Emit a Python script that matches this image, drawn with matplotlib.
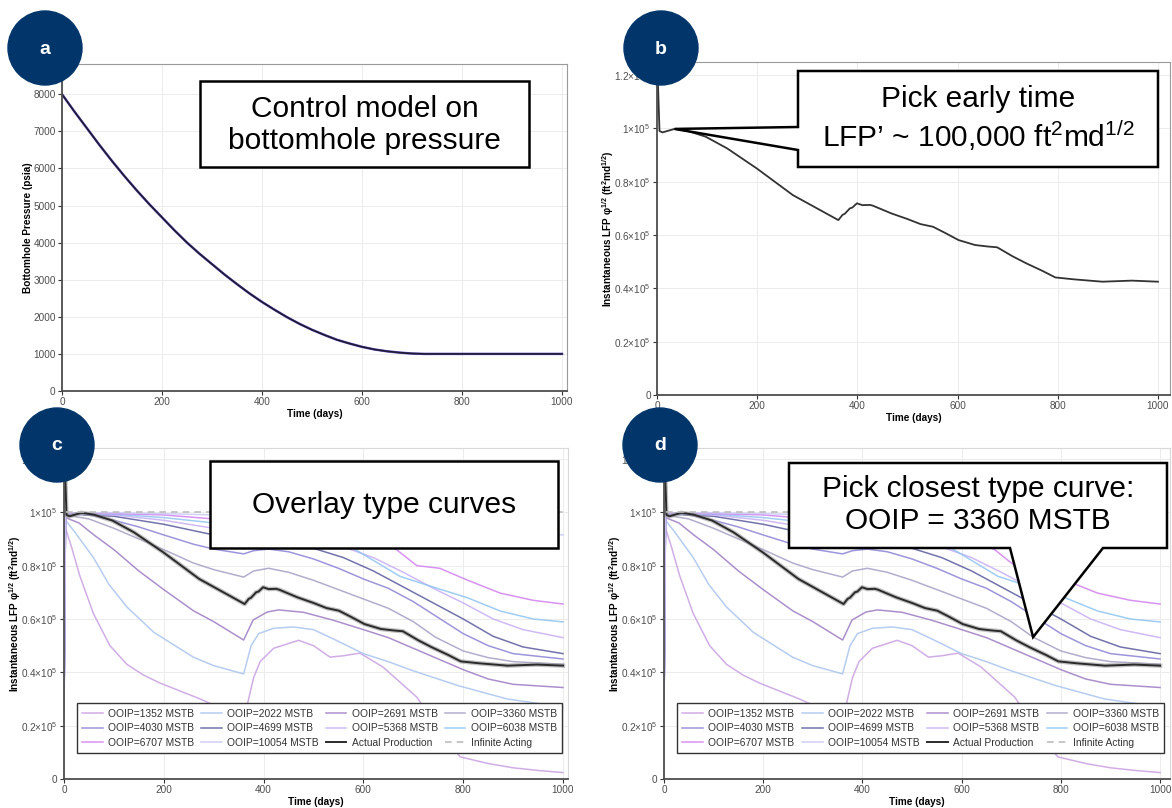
import numpy as np
import matplotlib
matplotlib.use("Agg")
import matplotlib.pyplot as plt
from matplotlib.patches import Circle, Polygon, Rectangle
from matplotlib.ticker import FuncFormatter, MultipleLocator

plt.rcParams['font.family'] = ['Liberation Sans', 'DejaVu Sans']
plt.rcParams['mathtext.fontset'] = 'custom'
plt.rcParams['mathtext.rm'] = 'Liberation Sans'
plt.rcParams['mathtext.it'] = 'Liberation Sans:italic'
plt.rcParams['mathtext.bf'] = 'Liberation Sans:bold'

# --- bottomhole pressure control (psia) ---
bhp_days = [0, 25, 50, 75, 100, 125, 150, 175, 200, 225, 250, 275, 300, 325, 350, 375,
            400, 425, 450, 475, 500, 525, 550, 575, 600, 625, 650, 675, 700, 725, 1000]
bhp_psia = [8000, 7530, 7080, 6630, 6200, 5790, 5400, 5030, 4680, 4330, 4000, 3700, 3420,
            3140, 2880, 2630, 2400, 2190, 1990, 1810, 1650, 1510, 1380, 1280, 1190, 1120,
            1070, 1035, 1010, 1000, 1000]

# --- actual production, instantaneous LFP (x 1e5 ft2 md^1/2) ---
act_days = [1, 5, 11, 35, 60, 97, 140, 199, 271, 362, 370, 375, 385, 390, 399, 410, 425,
            431, 468, 500, 526, 551, 575, 602, 635, 660, 679, 710, 737, 770, 795, 831, 889,
            948, 1000]
act_lfp = [1.22, 0.99, 0.985, 0.998, 0.991, 0.969, 0.925, 0.85, 0.75, 0.656, 0.675, 0.68,
           0.70, 0.703, 0.719, 0.712, 0.713, 0.71, 0.681, 0.66, 0.641, 0.631, 0.608, 0.581,
           0.5625, 0.557, 0.554, 0.52, 0.494, 0.465, 0.441, 0.434, 0.425, 0.429, 0.425]

# --- type curves by OOIP (MSTB) ---
t_1352 = [0, 3, 15, 32, 59, 92, 126, 159, 192, 273, 320, 360, 370, 380, 393, 420, 470, 500,
          533, 560, 593, 639, 707, 760, 794, 850, 900, 950, 1000]
v_1352 = [0.25, 0.94, 0.87, 0.76, 0.62, 0.50, 0.43, 0.39, 0.36, 0.30, 0.26, 0.22, 0.30, 0.38,
          0.44, 0.49, 0.52, 0.50, 0.457, 0.462, 0.472, 0.42, 0.307, 0.16, 0.083, 0.058, 0.042,
          0.032, 0.024]
t_2022 = [0, 3, 20, 59, 90, 126, 180, 259, 300, 360, 375, 390, 420, 460, 500, 540, 600, 650,
          693, 790, 888, 1000]
v_2022 = [0.25, 0.97, 0.93, 0.83, 0.73, 0.645, 0.55, 0.457, 0.425, 0.394, 0.50, 0.545, 0.565,
          0.57, 0.56, 0.525, 0.47, 0.44, 0.41, 0.35, 0.30, 0.27]
t_2691 = [0, 3, 30, 60, 100, 150, 200, 260, 300, 360, 379, 407, 430, 480, 540, 600, 650, 700,
          750, 800, 850, 900, 1000]
v_2691 = [0.25, 0.98, 0.96, 0.915, 0.86, 0.78, 0.71, 0.63, 0.59, 0.521, 0.596, 0.626, 0.634,
          0.625, 0.595, 0.56, 0.53, 0.49, 0.45, 0.41, 0.375, 0.355, 0.343]
t_3360 = [0, 3, 50, 100, 150, 200, 259, 300, 360, 380, 410, 450, 500, 550, 600, 650, 700, 744,
          800, 850, 900, 1000]
v_3360 = [0.25, 0.99, 0.975, 0.94, 0.90, 0.86, 0.81, 0.785, 0.757, 0.78, 0.79, 0.775, 0.745,
          0.71, 0.675, 0.64, 0.59, 0.532, 0.48, 0.455, 0.44, 0.43]
t_4030 = [0, 3, 50, 100, 150, 200, 260, 300, 360, 380, 410, 450, 500, 550, 600, 650, 700, 750,
          800, 850, 900, 1000]
v_4030 = [0.25, 0.995, 0.99, 0.97, 0.945, 0.915, 0.88, 0.862, 0.844, 0.856, 0.862, 0.852,
          0.825, 0.79, 0.75, 0.715, 0.665, 0.605, 0.545, 0.50, 0.47, 0.45]
t_4699 = [0, 3, 100, 200, 300, 360, 380, 420, 500, 560, 620, 680, 740, 800, 860, 920, 1000]
v_4699 = [0.25, 0.995, 0.985, 0.955, 0.915, 0.893, 0.90, 0.895, 0.865, 0.83, 0.78, 0.72, 0.66,
          0.60, 0.535, 0.495, 0.47]
t_5368 = [0, 3, 100, 200, 300, 360, 380, 420, 500, 560, 620, 680, 740, 800, 860, 920, 1000]
v_5368 = [0.25, 0.995, 0.99, 0.97, 0.94, 0.92, 0.928, 0.925, 0.90, 0.87, 0.83, 0.775, 0.715,
          0.66, 0.60, 0.56, 0.53]
t_6038 = [0, 3, 100, 200, 300, 360, 380, 420, 500, 560, 593, 673, 739, 808, 874, 940, 1000]
v_6038 = [0.25, 0.995, 0.993, 0.98, 0.96, 0.945, 0.952, 0.95, 0.925, 0.885, 0.85, 0.76, 0.72,
          0.68, 0.63, 0.60, 0.589]
t_6707 = [0, 3, 100, 200, 300, 360, 380, 420, 500, 580, 640, 667, 707, 753, 808, 874, 940, 1000]
v_6707 = [0.25, 0.997, 0.995, 0.99, 0.975, 0.965, 0.97, 0.968, 0.95, 0.92, 0.885, 0.859, 0.80,
          0.79, 0.746, 0.697, 0.67, 0.656]
t_10054 = [0, 3, 100, 200, 300, 360, 380, 420, 500, 600, 700, 800, 900, 1000]
v_10054 = [0.25, 0.998, 0.998, 0.995, 0.99, 0.985, 0.988, 0.987, 0.975, 0.96, 0.945, 0.935,
           0.925, 0.915]

inf_days = [5, 1000]
inf_lfp = [1.0, 1.0]

ooip = [1352, 2022, 2691, 3360, 4030, 4699, 5368, 6038, 6707, 10054]
ooip_colors = ['#c99fe2', '#a9c4ee', '#9d7cc4', '#a59fc4', '#8b83d6',
               '#5b5a9e', '#c7aef5', '#8ec4f2', '#d27ff0', '#c8c9f5']
type_curves = [(t_1352, v_1352), (t_2022, v_2022), (t_2691, v_2691), (t_3360, v_3360),
               (t_4030, v_4030), (t_4699, v_4699), (t_5368, v_5368), (t_6038, v_6038),
               (t_6707, v_6707), (t_10054, v_10054)]

W, H = 1172, 808
fig = plt.figure(figsize=(W / 100, H / 100), dpi=100)

lfp_label = ('Instantaneous LFP φ$^{\\mathbf{1/2}}$ (ft$^{\\mathbf{2}}$md$^{\\mathbf{1/2}}$)')


def lfp_fmt(v, pos):
    if abs(v) < 1e-9:
        return '0'
    return f'{v:g}×10$^5$'


def style_axes(ax, light_border='#9a9a9a'):
    ax.grid(True, color='#ececec', lw=0.7)
    ax.set_axisbelow(True)
    for s in ['left', 'bottom']:
        ax.spines[s].set_color('#4d4d4d')
        ax.spines[s].set_linewidth(1.3)
    for s in ['top', 'right']:
        ax.spines[s].set_color(light_border)
        ax.spines[s].set_linewidth(0.8)
    ax.tick_params(length=3, width=0.8, color='#333333', labelsize=7.2,
                   labelcolor='#4d4d4d', pad=1.5)
    ax.xaxis.set_major_locator(MultipleLocator(200))
    ax.set_xlabel('Time (days)', fontsize=7.2, fontweight='bold', labelpad=1)


# panel a: bottomhole pressure
ax_a = fig.add_axes([62 / W, 1 - 391 / H, 505 / W, 327 / H])
ax_a.plot(bhp_days, bhp_psia, color='#6a55c0', lw=1.8)
ax_a.plot(bhp_days, bhp_psia, color='#1e1b35', lw=1.2)
ax_a.set_xlim(0, 1010)
ax_a.set_ylim(0, 8815)
ax_a.yaxis.set_major_locator(MultipleLocator(1000))
style_axes(ax_a)
ax_a.set_ylabel('Bottomhole Pressure (psia)', fontsize=7.2, fontweight='bold', labelpad=0)

# panel b: actual production LFP
ax_b = fig.add_axes([657 / W, 1 - 395 / H, 513 / W, 333 / H])
ax_b.plot(act_days, act_lfp, color='#333333', lw=1.3)
ax_b.set_xlim(0, 1024)
ax_b.set_ylim(0, 1.249)
ax_b.yaxis.set_major_locator(MultipleLocator(0.2))
ax_b.yaxis.set_major_formatter(FuncFormatter(lfp_fmt))
style_axes(ax_b)
ax_b.set_ylabel(lfp_label, fontsize=7.2, fontweight='bold', labelpad=-1)


def lfp_panel(rect, xmax):
    ax = fig.add_axes(rect)
    handles = []
    for n, c, (t, v) in zip(ooip, ooip_colors, type_curves):
        h, = ax.plot(t, v, color=c, lw=1.1, alpha=0.85, label=f'OOIP={n} MSTB')
        handles.append(h)
    ax.plot(act_days, act_lfp, color='#9a9a9a', lw=3.2, alpha=0.6)
    h_act, = ax.plot(act_days, act_lfp, color='#2b2b2b', lw=1.4, label='Actual Production')
    h_inf, = ax.plot(inf_days, inf_lfp, color='#bdbdbd', lw=1.2, ls=(0, (4, 3)),
                     label='Infinite Acting')
    handles += [h_act, h_inf]
    ax.set_xlim(0, xmax)
    ax.set_ylim(0, 1.241)
    ax.yaxis.set_major_locator(MultipleLocator(0.2))
    ax.yaxis.set_major_formatter(FuncFormatter(lfp_fmt))
    style_axes(ax, light_border='#d9d9d9')
    ax.set_ylabel(lfp_label, fontsize=7.2, fontweight='bold', labelpad=-1)
    # legend is filled row by row, four entries per row
    order = [0, 4, 8, 1, 5, 9, 2, 6, 10, 3, 7, 11]
    leg = ax.legend([handles[i] for i in order], [handles[i].get_label() for i in order],
                    ncol=4, loc='lower left', bbox_to_anchor=(0.016, 0.063, 0.982, 0.167),
                    mode='expand', fontsize=7.4, frameon=True, fancybox=False,
                    edgecolor='#333333', framealpha=1, handlelength=2.0,
                    handletextpad=0.5, labelspacing=0.45, borderpad=0.5,
                    columnspacing=0.4, labelcolor='#333333')
    leg.get_frame().set_linewidth(1.0)
    return ax


ax_c = lfp_panel([64 / W, 1 - 779 / H, 504 / W, 331 / H], 1010)
ax_d = lfp_panel([664 / W, 1 - 779 / H, 506 / W, 331 / H], 1020)

# overlay in pixel space for labels and callouts
ov = fig.add_axes([0, 0, 1, 1], zorder=10)
ov.set_xlim(0, W)
ov.set_ylim(H, 0)
ov.axis('off')
ov.patch.set_alpha(0)


def to_px(ax, x, y):
    dx, dy = ax.transData.transform((x, y))
    return dx, H - dy


box_kw = dict(facecolor='white', edgecolor='black', lw=1.8, zorder=5)
text_kw = dict(fontsize=21.5, ha='center', va='center', color='black', zorder=6)

# a
ov.add_patch(Rectangle((200, 81), 329, 86, **box_kw))
ov.text(364.5, 125, 'Control model on\nbottomhole pressure', **text_kw)

# b: callout pointing at the early-time plateau
tip_b = to_px(ax_b, 35, 0.998)
ov.add_patch(Polygon([(798, 71), (1158, 71), (1158, 167), (798, 167), (798, 150), tip_b,
                      (798, 127)], closed=True, **box_kw))
ov.text(978, 119, 'Pick early time\nLFP’ ~ 100,000 ft$^2$md$^{1/2}$', **text_kw)

# c
ov.add_patch(Rectangle((210, 461), 348, 87, **box_kw))
ov.text(384, 505, 'Overlay type curves', **text_kw)

# d: callout pointing at the 3360 MSTB curve
tip_d = to_px(ax_d, 744, 0.532)
ov.add_patch(Polygon([(789, 463), (1167, 463), (1167, 548), (1103, 548), tip_d, (1010, 548),
                      (789, 548)], closed=True, **box_kw))
ov.text(978, 505, 'Pick closest type curve:\nOOIP = 3360 MSTB', **text_kw)

navy = '#02366b'
for (cx, cy), letter in zip([(45, 48), (661, 48), (57, 445), (660, 445)], 'abcd'):
    ov.add_patch(Circle((cx, cy), 37, color=navy, zorder=7))
    ov.text(cx, cy + 1, letter, color='white', fontsize=14, fontweight='bold',
            ha='center', va='center', zorder=8)

fig.savefig('out.png', dpi=100)
